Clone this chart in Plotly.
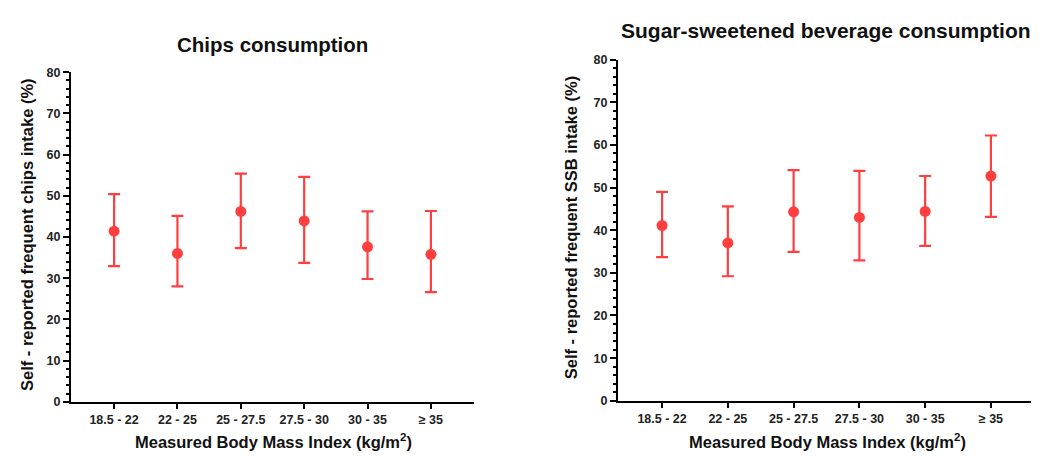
import plotly.graph_objects as go

categories = ["18.5 - 22", "22 - 25", "25 - 27.5", "27.5 - 30", "30 - 35", "≥ 35"]

chips_mean = [41.4, 36.0, 46.2, 43.9, 37.6, 35.8]
chips_upper = [50.4, 45.1, 55.4, 54.6, 46.2, 46.3]
chips_lower = [32.9, 28.0, 37.3, 33.7, 29.8, 26.6]

ssb_mean = [41.1, 37.0, 44.3, 43.0, 44.4, 52.7]
ssb_upper = [49.0, 45.6, 54.1, 53.9, 52.7, 62.2]
ssb_lower = [33.7, 29.2, 34.9, 32.9, 36.3, 43.1]

y_ticks = [0, 10, 20, 30, 40, 50, 60, 70, 80]

RED = "#FF3F3F"
W, H = 1039, 456
FONT = "Liberation Sans, Arial, sans-serif"

fig = go.Figure()

def add_series(mean, upper, lower, xa, ya):
    fig.add_trace(go.Scatter(
        x=list(range(len(categories))), y=mean, mode="markers",
        xaxis=xa, yaxis=ya,
        marker=dict(color=RED, size=11),
        error_y=dict(type="data", symmetric=False,
                     array=[u - m for u, m in zip(upper, mean)],
                     arrayminus=[m - l for m, l in zip(mean, lower)],
                     color=RED, thickness=2.2, width=6),
        showlegend=False,
    ))

add_series(chips_mean, chips_upper, chips_lower, "x", "y")
add_series(ssb_mean, ssb_upper, ssb_lower, "x2", "y2")

def xaxis(domain, anchor, rng):
    return dict(domain=domain, anchor=anchor, range=rng,
                tickmode="array", tickvals=list(range(len(categories))),
                ticktext=["<b>" + c + "</b>" for c in categories],
                showline=True, linecolor="black", linewidth=2,
                ticks="outside", ticklen=5, tickwidth=2, tickcolor="black",
                showgrid=False, zeroline=False,
                tickfont=dict(family=FONT, size=12.5, color="#222222"))

def yaxis(domain, anchor):
    return dict(domain=domain, anchor=anchor, range=[0, 80],
                tickmode="array", tickvals=y_ticks,
                ticktext=["<b>%d</b>" % t for t in y_ticks],
                showline=True, linecolor="black", linewidth=2,
                ticks="outside", ticklen=6, tickwidth=2, tickcolor="black",
                minor=dict(dtick=2, ticks="outside", ticklen=3, tickwidth=1.5, tickcolor="black"),
                showgrid=False, zeroline=False,
                tickfont=dict(family=FONT, size=12.5, color="#222222"))

fig.update_layout(
    width=W, height=H,
    margin=dict(l=0, r=0, t=0, b=0),
    paper_bgcolor="white", plot_bgcolor="white",
    xaxis=xaxis([63 / W, 466 / W], "y", [-0.68, 5.68]),
    yaxis=yaxis([1 - 399 / H, 1 - 59 / H], "x"),
    xaxis2=xaxis([610 / W, 1027 / W], "y2", [-0.67, 5.67]),
    yaxis2=yaxis([1 - 398 / H, 1 - 46 / H], "x2"),
)

def ann(text, px, py, size, angle=0):
    fig.add_annotation(text=text, x=px / W, y=1 - py / H, xref="paper", yref="paper",
                       showarrow=False, textangle=angle, xanchor="center", yanchor="middle",
                       font=dict(family=FONT, size=size, color="#111111"))

ann("<b>Chips consumption</b>", 264, 30, 20.5)
ann("<b>Sugar-sweetened beverage consumption</b>", 818, 16, 21)
ann("<b>Self - reported frequent chips intake (%)</b>", 19, 227, 16.5, -90)
ann("<b>Self - reported frequent SSB intake (%)</b>", 563, 220, 16.5, -90)
ann("<b>Measured Body Mass Index (kg/m<sup>2</sup>)</b>", 265, 440, 16.5)
ann("<b>Measured Body Mass Index (kg/m<sup>2</sup>)</b>", 819, 440, 16.5)

fig.write_html("out.html")
